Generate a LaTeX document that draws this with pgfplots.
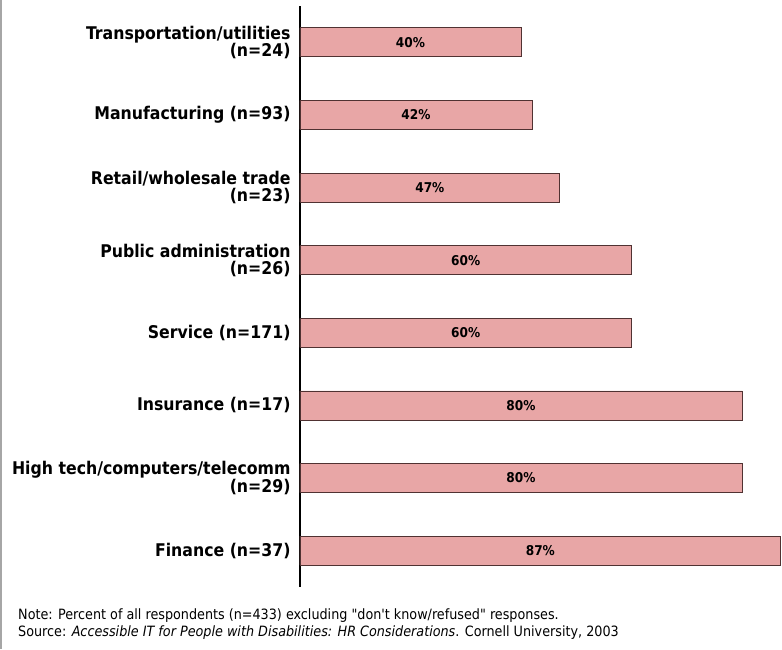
\documentclass[border=0pt]{standalone}
\usepackage{pgfplots}
\pgfplotsset{compat=1.18}
\usepackage{fontspec}
\setmainfont{DejaVu Sans Condensed}
\newfontfamily\notefont{DejaVu Sans Condensed}
\definecolor{barfill}{RGB}{232,166,166}
\definecolor{baredge}{RGB}{80,50,50}
\begin{document}
\begin{tikzpicture}
\useasboundingbox (0,0) rectangle (782pt,-649pt);
\fill[white] (0,0) rectangle (782pt,-649pt);
\draw[gray!70, line width=1.5pt] (0.75pt,0) -- (0.75pt,-649pt);
\begin{axis}[
  at={(300pt,-6pt)}, anchor=north west,
  scale only axis, width=482pt, height=581pt,
  xmin=0, xmax=87.24, ymin=-0.5, ymax=7.5,
  y dir=reverse,
  axis x line=none,
  axis y line*=left,
  y axis line style={line width=1.6pt, black, -},
  ytick={0,...,7},
  major tick length=0pt,
  yticklabels={
    {Transportation/utilities\\(n=24)},
    {Manufacturing (n=93)},
    {Retail/wholesale trade\\(n=23)},
    {Public administration\\(n=26)},
    {Service (n=171)},
    {Insurance (n=17)},
    {High tech/computers/telecomm\\(n=29)},
    {Finance (n=37)}},
  yticklabel style={align=right, font=\bfseries\fontsize{17.5}{17}\selectfont, xshift=-6pt},
  /pgf/number format/assume math mode=true,
  clip=false,
]
\addplot[xbar, bar width=29pt, fill=barfill, draw=baredge, line width=0.8pt]
  table[x=v, y=y] {
y v
0 40
1 42
2 47
3 60
4 60
5 80
6 80
7 87
};
\addplot[draw=none, mark=none, nodes near coords, point meta=explicit symbolic,
  every node near coord/.append style={anchor=center, font=\bfseries\fontsize{13.5}{14}\selectfont}]
  table[x expr=\thisrow{v}/2, y=y, meta=lab] {
y v lab
0 40 40\%
1 42 42\%
2 47 47\%
3 60 60\%
4 60 60\%
5 80 80\%
6 80 80\%
7 87 87\%
};
\end{axis}
\node[anchor=west, inner xsep=0pt, font=\notefont\fontsize{14.2}{16}\selectfont] at (18pt,-616pt) {Note: Percent of all respondents (n=433) excluding "don't know/refused" responses.};
\node[anchor=west, inner xsep=0pt, font=\notefont\fontsize{14.2}{16}\selectfont] at (18pt,-633pt) {Source: \textit{Accessible IT for People with Disabilities: HR Considerations}. Cornell University, 2003};
\end{tikzpicture}
\end{document}
